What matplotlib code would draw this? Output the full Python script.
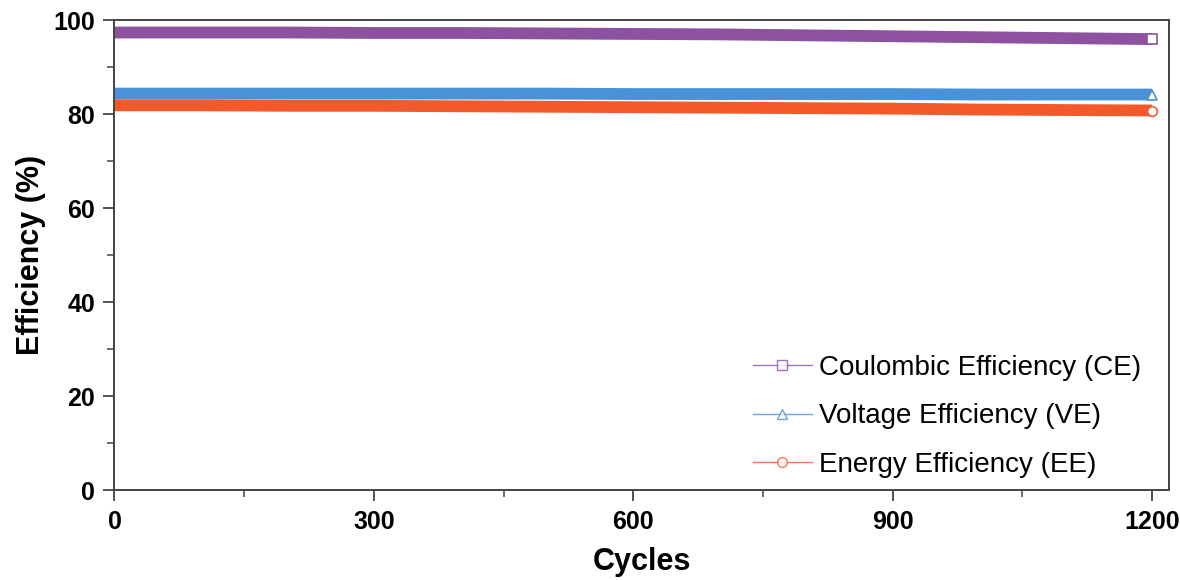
import matplotlib
matplotlib.use("Agg")
from matplotlib import pyplot as plt
from matplotlib.lines import Line2D
from matplotlib.ticker import MultipleLocator

plt.rcParams['font.family'] = ['Liberation Sans', 'DejaVu Sans']

# values, every 100 cycles
cycles = [0, 100, 200, 300, 400, 500, 600, 700, 800, 900, 1000, 1100, 1200]
ce = [97.4, 97.4, 97.4, 97.3, 97.3, 97.2, 97.1, 97.0, 96.8, 96.6, 96.4, 96.2, 96.0]
ve = [84.4, 84.4, 84.4, 84.4, 84.4, 84.4, 84.3, 84.3, 84.3, 84.3, 84.2, 84.2, 84.2]
ee = [81.9, 81.9, 81.8, 81.8, 81.7, 81.6, 81.5, 81.4, 81.3, 81.2, 81.0, 80.9, 80.8]

labels = ['Coulombic Efficiency (CE)', 'Voltage Efficiency (VE)', 'Energy Efficiency (EE)']
colors = ['#8c52a0', '#4a92d8', '#f4592b']
markers = ['s', '^', 'o']

fig = plt.figure(figsize=(11.8, 5.8), dpi=100)
ax = fig.add_axes([0.097, 0.155, 0.894, 0.81])

handles = []
for ys, lab, c, m in zip([ce, ve, ee], labels, colors, markers):
    ax.plot(cycles, ys, color=c, lw=8.5, solid_capstyle='butt', zorder=2)
    ax.plot(cycles[-1], ys[-1], marker=m, ms=7, mfc='white', mec=c,
            mew=1.2, ls='none', zorder=3)
    handles.append(Line2D([0], [0], color=c, lw=1.0, marker=m, ms=7,
                          mfc='white', mec=c, mew=1.0, alpha=0.8, label=lab))

ax.set_xlim(0, 1220)
ax.set_ylim(0, 100)
ax.xaxis.set_major_locator(MultipleLocator(300))
ax.xaxis.set_minor_locator(MultipleLocator(150))
ax.yaxis.set_major_locator(MultipleLocator(20))
ax.yaxis.set_minor_locator(MultipleLocator(10))
ax.tick_params(which='major', direction='out', length=8, width=1.3,
               color='#444444', labelsize=18, pad=6)
ax.tick_params(which='minor', direction='out', length=5, width=1.1,
               color='#444444')
ax.tick_params(top=False, right=False, which='both')
for lab in ax.get_xticklabels() + ax.get_yticklabels():
    lab.set_fontweight('bold')
for sp in ax.spines.values():
    sp.set_color('#444444')
    sp.set_linewidth(1.4)

ax.set_xlabel('Cycles', fontsize=22, fontweight='bold', labelpad=10)
ax.set_ylabel('Efficiency (%)', fontsize=22, fontweight='bold', labelpad=5)

ax.legend(handles=handles, loc='lower right', frameon=False, fontsize=20,
          handlelength=2.15, handletextpad=0.25, labelspacing=0.8,
          borderaxespad=0.0, bbox_to_anchor=(0.984, 0.003))

fig.savefig('out.png', dpi=100)
plt.close(fig)
